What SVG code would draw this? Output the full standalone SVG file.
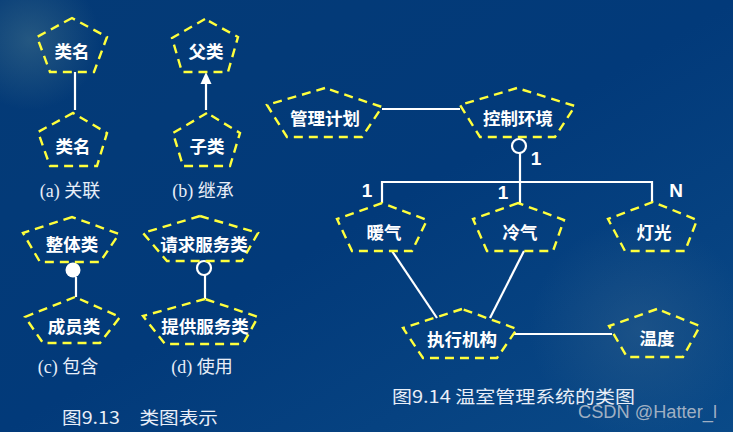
<svg xmlns="http://www.w3.org/2000/svg" width="733" height="432" viewBox="0 0 733 432">
<defs>
<linearGradient id="bg" x1="0" y1="0" x2="1" y2="1">
<stop offset="0" stop-color="#043a76"/>
<stop offset="0.5" stop-color="#023a7a"/>
<stop offset="1" stop-color="#0a4a88"/>
</linearGradient>
<radialGradient id="glowTL" cx="0.5" cy="0.5" r="0.5">
<stop offset="0" stop-color="#3f6f8a" stop-opacity="0.55"/>
<stop offset="1" stop-color="#3f6f8a" stop-opacity="0"/>
</radialGradient>
<radialGradient id="glowBR" cx="0.5" cy="0.5" r="0.5">
<stop offset="0" stop-color="#2f5f8c" stop-opacity="0.5"/>
<stop offset="1" stop-color="#2f5f8c" stop-opacity="0"/>
</radialGradient>
<style>
.node{fill:none;stroke:#ffff3c;stroke-width:2.4;stroke-dasharray:9 6;stroke-linejoin:miter}
.lbl{fill:#ffffff;font-family:"Noto Sans CJK SC","Liberation Sans",sans-serif;font-size:17.5px;font-weight:bold;text-anchor:middle}
.edge{stroke:#ffffff;stroke-width:2.2;fill:none}
.num{fill:#ffffff;font-family:"Liberation Sans",Arial,sans-serif;font-size:19px;font-weight:bold;text-anchor:middle}
.cap{fill:#e8eef8;font-family:"Liberation Serif","Noto Sans CJK SC",serif;font-size:18px;text-anchor:middle}
.fig{fill:#e8eef8;font-family:"Noto Sans CJK SC","Liberation Serif",serif;font-size:17px}
</style>
</defs>
<rect width="733" height="432" fill="url(#bg)"/>
<circle cx="30" cy="40" r="70" fill="url(#glowTL)"/>
<circle cx="640" cy="330" r="110" fill="url(#glowBR)"/>

<g id="connectors">
<line class="edge" x1="75" y1="72" x2="75" y2="110"/>
<line class="edge" x1="206" y1="110" x2="206" y2="82"/>
<polygon points="206,72 200.5,84 211.5,84" fill="#ffffff"/>
<circle cx="73" cy="270" r="7.5" fill="#ffffff"/>
<line class="edge" x1="76" y1="277" x2="76" y2="297"/>
<circle cx="204" cy="268" r="7" fill="none" stroke="#ffffff" stroke-width="2.2"/>
<line class="edge" x1="205" y1="275" x2="205" y2="299"/>
<line class="edge" x1="382" y1="109" x2="460" y2="109"/>
<circle cx="519" cy="146" r="7" fill="none" stroke="#ffffff" stroke-width="2.2"/>
<line class="edge" x1="520" y1="153" x2="520" y2="203"/>
<polyline class="edge" points="382,203 382,182 652,182 652,203"/>
<line class="edge" x1="392" y1="251" x2="437" y2="318"/>
<line class="edge" x1="524" y1="251" x2="490" y2="318"/>
<line class="edge" x1="513" y1="334" x2="612" y2="334"/>
<text class="num" x="536" y="165">1</text>
<text class="num" x="367" y="197">1</text>
<text class="num" x="503" y="199">1</text>
<text class="num" x="676" y="197">N</text>
</g>

<g id="a-top"><polygon class="node" points="72,18 37,37 50,72 94,72 107,37"/><text class="lbl" x="72" y="58">类名</text></g>
<g id="a-bottom"><polygon class="node" points="73,113 38,132 50,166 97,166 107,133"/><text class="lbl" x="73" y="153">类名</text></g>
<g id="b-parent"><polygon class="node" points="205,19 172,38 182,72 228,72 238,37"/><text class="lbl" x="206" y="58">父类</text></g>
<g id="b-child"><polygon class="node" points="207,113 173,133 183,166 230,166 240,133"/><text class="lbl" x="207" y="153">子类</text></g>
<g id="c-whole"><polygon class="node" points="72,217 23,233 40,262 100,262 119,234"/><text class="lbl" x="72" y="251">整体类</text></g>
<g id="c-member"><polygon class="node" points="75,297 25,317 43,343 100,343 120,317"/><text class="lbl" x="74" y="333">成员类</text></g>
<g id="d-request"><polygon class="node" points="200,216 143,233 167,261 242,261 258,233"/><text class="lbl" x="204" y="251">请求服务类</text></g>
<g id="d-provide"><polygon class="node" points="205,299 143,316 165,344 243,344 258,317"/><text class="lbl" x="205" y="333">提供服务类</text></g>
<g id="plan"><polygon class="node" points="325,88 267,105 287,137 362,137 382,107"/><text class="lbl" x="325" y="125">管理计划</text></g>
<g id="control"><polygon class="node" points="517,88 460,105 480,137 555,137 575,106"/><text class="lbl" x="518" y="125">控制环境</text></g>
<g id="heat"><polygon class="node" points="382,203 337,219 352,251 412,251 427,220"/><text class="lbl" x="384" y="239">暖气</text></g>
<g id="cool"><polygon class="node" points="518,203 473,219 487,251 553,251 564,220"/><text class="lbl" x="520" y="239">冷气</text></g>
<g id="light"><polygon class="node" points="653,202 608,219 625,251 685,251 697,220"/><text class="lbl" x="654" y="239">灯光</text></g>
<g id="actuator"><polygon class="node" points="462,309 403,328 423,358 497,358 517,329"/><text class="lbl" x="462" y="346">执行机构</text></g>
<g id="temp"><polygon class="node" points="657,309 609,326 627,357 683,357 700,326"/><text class="lbl" x="657" y="345">温度</text></g>

<g id="captions">
<text class="cap" x="70" y="197">(a) 关联</text>
<text class="cap" x="203" y="197">(b) 继承</text>
<text class="cap" x="68" y="373">(c) 包含</text>
<text class="cap" x="202" y="373">(d) 使用</text>
<text class="fig" x="62" y="424" textLength="156" lengthAdjust="spacingAndGlyphs">图9.13　类图表示</text>
<text class="fig" x="392" y="403" textLength="243" lengthAdjust="spacingAndGlyphs">图9.14 温室管理系统的类图</text>
<text x="578" y="418" fill="#c8ccd4" fill-opacity="0.8" font-family="Liberation Sans, Arial, sans-serif" font-size="18" textLength="139" lengthAdjust="spacingAndGlyphs">CSDN @Hatter_l</text>
</g>
</svg>
